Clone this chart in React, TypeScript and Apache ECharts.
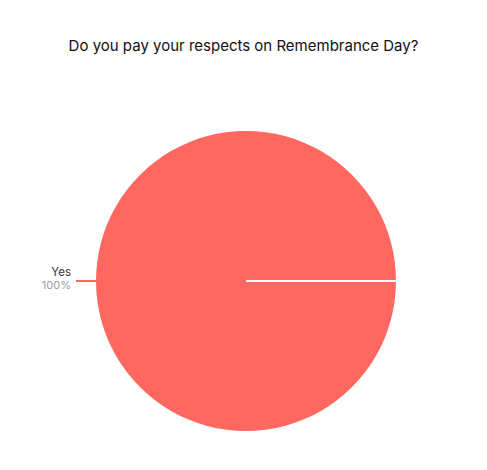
import React, { useEffect, useRef } from "react";
import * as echarts from "echarts";

const TITLE = "Do you pay your respects on Remembrance Day?";
const categories = ["Yes"];
const values = [100];
const percents = ["100%"];

const CX = 246;
const CY = 281;
const R = 150;

export default function App() {
  const ref = useRef<HTMLDivElement>(null);
  useEffect(() => {
    if (!ref.current) return;
    const chart = echarts.init(ref.current, null, { renderer: "svg" });
    chart.setOption({
      animation: false,
      backgroundColor: "#ffffff",
      title: {
        text: TITLE,
        left: "center",
        top: 33,
        textStyle: {
          fontFamily: "Inter",
          fontSize: 15,
          fontWeight: "normal",
          color: "#111111",
        },
      },
      series: [
        {
          type: "pie",
          center: [CX, CY],
          radius: R,
          startAngle: 0,
          clockwise: true,
          itemStyle: { color: "#ff6860" },
          label: {
            show: true,
            position: "outside",
            alignTo: "none",
            distanceToLabelLine: 5,
            padding: [0, 0, 6, 0],
            formatter: (p: any) => `{a|${p.name}}\n{b|${percents[p.dataIndex]}}`,
            rich: {
              a: { fontFamily: "Inter", fontSize: 11.5, color: "#333333", align: "right", lineHeight: 13 },
              b: { fontFamily: "Inter", fontSize: 11, color: "#9a9aa6", align: "right", lineHeight: 13 },
            },
          },
          labelLine: {
            show: true,
            length: 20,
            length2: 0,
            lineStyle: { color: "#ff6860", width: 2 },
          },
          emphasis: { disabled: true },
          data: categories.map((c, i) => ({ name: c, value: values[i] })),
        },
      ],
      graphic: [
        {
          type: "line",
          shape: { x1: CX, y1: CY, x2: CX + R, y2: CY },
          style: { stroke: "#ffffff", lineWidth: 2 },
          z: 100,
        },
      ],
    });
    return () => chart.dispose();
  }, []);
  return (
    <div
      ref={ref}
      style={{ position: "fixed", left: 0, top: 0, width: 487, height: 470 }}
    />
  );
}
